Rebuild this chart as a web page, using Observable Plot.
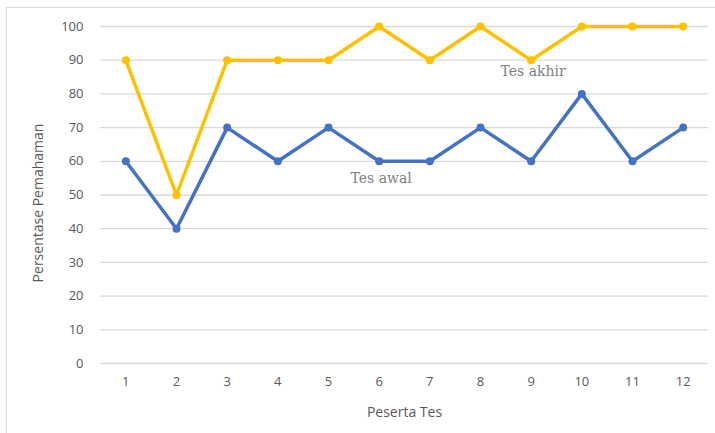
<!DOCTYPE html>
<html>
<head>
<meta charset="utf-8">
<script src="https://cdn.jsdelivr.net/npm/d3@7"></script>
<script src="https://cdn.jsdelivr.net/npm/@observablehq/plot@0.6"></script>
<style>
  html, body { margin: 0; padding: 0; background: #fff; overflow: hidden; }
  #wrap { position: relative; width: 715px; height: 433px; }
  #border { position: absolute; left: 6px; top: 7px; width: 760px; height: 480px; border: 1.5px solid #d9d9d9; box-sizing: border-box; pointer-events: none; }
  #chart { position: absolute; left: 0; top: 0; }
</style>
</head>
<body>
<div id="wrap"><div id="border"></div><div id="chart"></div></div>
<script>
const peserta = ["1","2","3","4","5","6","7","8","9","10","11","12"];
const tesAwal = [60, 40, 70, 60, 70, 60, 60, 70, 60, 80, 60, 70];
const tesAkhir = [90, 50, 90, 90, 90, 100, 90, 100, 90, 100, 100, 100];
const yTicks = [0, 10, 20, 30, 40, 50, 60, 70, 80, 90, 100];
const xTitle = "Peserta Tes";
const yTitle = "Persentase Pemahaman";
// inline series labels (category, value)
const labelPos = [{x: "6", y: 55, name: "Tes awal"}, {x: "9", y: 86.5, name: "Tes akhir"}];

const awal = peserta.map((p, i) => ({x: p, y: tesAwal[i]}));
const akhir = peserta.map((p, i) => ({x: p, y: tesAkhir[i]}));

const blue = "#4472C4", gold = "#FFC000";
const font = "'Open Sans', sans-serif";

const plot = Plot.plot({
  width: 715,
  height: 433,
  marginLeft: 100,
  marginRight: 7,
  marginTop: 26,
  marginBottom: 70,
  style: {fontFamily: font, fontSize: "13px", color: "#595959", background: "transparent"},
  x: {type: "band", domain: peserta, padding: 0, round: false, label: null},
  y: {domain: [0, 100], label: null},
  marks: [
    Plot.gridY(yTicks, {stroke: "#d9d9d9", strokeOpacity: 1, strokeWidth: 1.3}),
    Plot.axisY(yTicks, {tickSize: 0, tickPadding: 17, label: null, fill: "#595959", fontSize: 13}),
    Plot.axisX(peserta, {tickSize: 0, tickPadding: 13, label: null, fill: "#595959", fontSize: 13}),
    Plot.line(awal, {x: "x", y: "y", stroke: blue, strokeWidth: 3.5}),
    Plot.dot(awal, {x: "x", y: "y", fill: blue, r: 4, stroke: "none"}),
    Plot.line(akhir, {x: "x", y: "y", stroke: gold, strokeWidth: 3.5}),
    Plot.dot(akhir, {x: "x", y: "y", fill: gold, r: 4, stroke: "none"}),
    Plot.text(labelPos, {x: "x", y: "y", text: "name", dx: 2, fill: "#7f7f7f", fontFamily: "'DejaVu Serif', serif", fontSize: 14}),
    Plot.text([xTitle], {frameAnchor: "bottom", dy: 53, text: d => d, fill: "#595959", fontSize: 14}),
    Plot.text([yTitle], {frameAnchor: "left", textAnchor: "middle", dx: -62, dy: 8, rotate: -90, text: d => d, fill: "#595959", fontSize: 14})
  ]
});
document.getElementById("chart").appendChild(plot);
</script>
</body>
</html>
